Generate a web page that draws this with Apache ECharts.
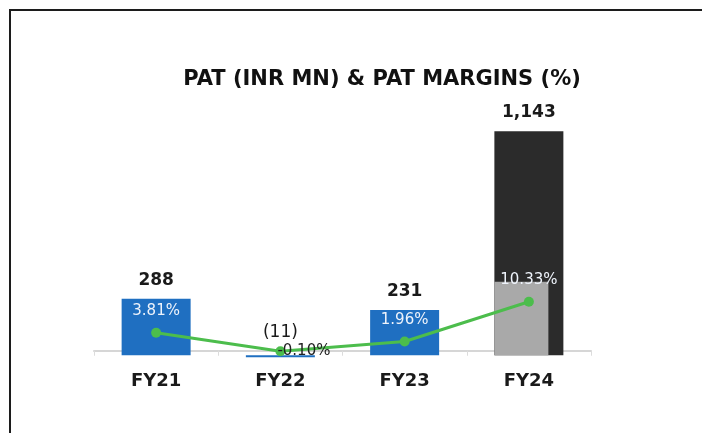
<!DOCTYPE html>
<html>
<head>
<meta charset="utf-8">
<script src="https://cdn.jsdelivr.net/npm/echarts@6/dist/echarts.min.js"></script>
<style>
  html, body { margin: 0; padding: 0; background: #fff; }
  .frame { position: absolute; left: 9px; top: 9px; width: 702px; height: 433px;
           border-top: 2px solid #1c1c1c; border-left: 2px solid #1c1c1c; }
  .chart { position: absolute; left: 0; top: 0; width: 702px; height: 433px; }
</style>
</head>
<body>
<div class="frame"></div>
<div class="chart"></div>
<script>
// PAT chart data
var years = ['FY21', 'FY22', 'FY23', 'FY24'];
var pat = [288, -11, 231, 1143];
var patMargin = [3.81, -0.10, 1.96, 10.33];
// lighter block sitting on the FY24 bar in the picture
var fy24Shade = [null, null, null, 375];

var blue = '#1f6fc1';
var dark = '#2b2b2b';

function fmtPat(v) {
  var s = Math.abs(v).toLocaleString('en-US');
  return v < 0 ? '(' + s + ')' : s;
}

var myChart = echarts.init(document.querySelector('.chart'));

var option = {
  backgroundColor: 'transparent',
  animation: false,
  title: {
    text: 'PAT (INR MN) & PAT MARGINS (%)',
    left: 377,
    top: 64,
    textAlign: 'center',
    textStyle: {
      fontFamily: 'DejaVu Sans',
      fontWeight: 'bold',
      fontSize: 21,
      color: '#111'
    }
  },
  grid: { left: 94, right: 111, top: 120, bottom: 68 },
  xAxis: {
    type: 'category',
    data: years,
    axisLine: { onZero: true, onZeroAxisIndex: 1, lineStyle: { color: '#d6d6d6', width: 2 } },
    axisTick: { show: true, length: 5, lineStyle: { color: '#dcdcdc' } },
    axisLabel: {
      margin: 7,
      fontFamily: 'DejaVu Sans',
      fontWeight: 'bold',
      fontSize: 18,
      color: '#1a1a1a'
    }
  },
  yAxis: [
    { type: 'value', min: -50, max: 1200, show: false, splitLine: { show: false } },
    { type: 'value', min: -3, max: 48.6, show: false, splitLine: { show: false } }
  ],
  series: [
    {
      name: 'shade',
      type: 'bar',
      data: fy24Shade,
      barWidth: 54,
      barGap: '-100%',
      z: 3,
      itemStyle: { color: '#a9a9a9' }
    },
    {
      name: 'PAT',
      type: 'bar',
      data: pat.map(function (v, i) {
        var item = { value: v, itemStyle: { color: i === 3 ? dark : blue } };
        if (v < 0) {
          item.label = { distance: 14, fontWeight: 'normal' };
        }
        return item;
      }),
      barWidth: 69,
      barGap: '-100%',
      label: {
        show: true,
        position: 'top',
        distance: 10,
        fontFamily: 'DejaVu Sans',
        fontWeight: 'bold',
        fontSize: 17,
        color: '#1a1a1a',
        formatter: function (p) { return fmtPat(p.value); }
      }
    },
    {
      name: 'PAT Margin',
      type: 'line',
      yAxisIndex: 1,
      data: patMargin.map(function (v) {
        var item = { value: v };
        if (v < 0) {
          item.label = { position: 'right', distance: -8, color: '#222' };
        }
        return item;
      }),
      z: 5,
      symbol: 'circle',
      symbolSize: 10,
      lineStyle: { color: '#4cbd4c', width: 3 },
      itemStyle: { color: '#4cbd4c' },
      label: {
        show: true,
        position: 'top',
        distance: 9,
        fontFamily: 'DejaVu Sans',
        fontSize: 15,
        color: '#eef3fb',
        formatter: function (p) { return p.value.toFixed(2) + '%'; }
      }
    }
  ]
};

myChart.setOption(option);
window.addEventListener('resize', function () {
  myChart.resize();
});
</script>
</body>
</html>
